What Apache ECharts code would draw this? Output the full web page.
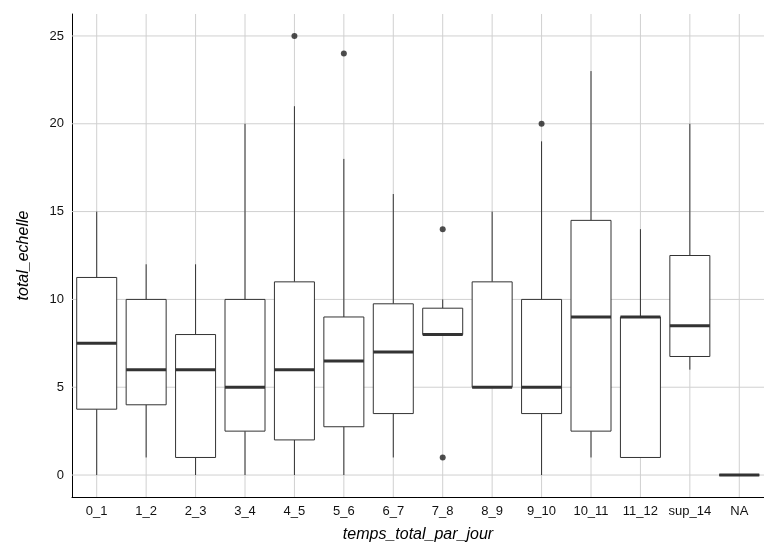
<!DOCTYPE html>
<html><head><meta charset="utf-8">
<script src="https://cdn.jsdelivr.net/npm/echarts@6/dist/echarts.min.js"></script>
<style>html,body{margin:0;background:#fff}#c{width:764px;height:549px}</style>
</head><body><div id="c"></div>
<script>
const categories = ['0_1','1_2','2_3','3_4','4_5','5_6','6_7','7_8','8_9','9_10','10_11','11_12','sup_14','NA'];
// [lower whisker, Q1, median, Q3, upper whisker]
const boxes = [
  [0,3.75,7.5,11.25,15],
  [1,4,6,10,12],
  [0,1,6,8,12],
  [0,2.5,5,10,20],
  [0,2,6,11,21],
  [0,2.75,6.5,9,18],
  [1,3.5,7,9.75,16],
  [8,8,8,9.5,10],
  [5,5,5,11,15],
  [0,3.5,5,10,19],
  [1,2.5,9,14.5,23],
  [1,1,9,9,14],
  [6,6.75,8.5,12.5,20],
  [0,0,0,0,0]
];
const outliers = [['4_5',25],['5_6',24],['7_8',14],['7_8',1],['9_10',20]];
const yTicks = [0,5,10,15,20,25];
const yMin = -1.25, yMax = 26.25;

const boxData = categories.map((c,i)=>[i].concat(boxes[i]));
const chart = echarts.init(document.getElementById('c'));
chart.setOption({
  animation:false,
  grid:{left:72,right:0,top:14,bottom:52},
  xAxis:{type:'category',data:categories,boundaryGap:true,
    axisLine:{onZero:false,lineStyle:{color:'#000',width:1}},axisTick:{show:false},
    axisLabel:{interval:0,color:'#111',fontSize:13,fontFamily:'Liberation Sans'},
    splitLine:{show:false},
    name:'temps_total_par_jour',nameLocation:'middle',nameGap:30,
    nameTextStyle:{fontStyle:'italic',fontSize:16,color:'#000',fontFamily:'Liberation Sans'}},
  yAxis:{type:'value',min:yMin,max:yMax,interval:1.25,
    axisLine:{show:true,lineStyle:{color:'#000'}},axisTick:{show:false},
    axisLabel:{color:'#111',fontSize:13,fontFamily:'Liberation Sans',
      formatter:v=>yTicks.includes(Math.round(v*100)/100)?String(Math.round(v)):''},
    splitLine:{show:false},
    name:'total_echelle',nameLocation:'middle',nameGap:40,
    nameTextStyle:{fontStyle:'italic',fontSize:16,color:'#000',fontFamily:'Liberation Sans'}},
  series:[
    {type:'custom',z:1,silent:true,data:yTicks.map(v=>[0,v]),
      renderItem:(p,api)=>{
        const y=api.coord([0,api.value(1)])[1], cs=p.coordSys;
        return {type:'line',shape:{x1:cs.x,y1:y,x2:cs.x+cs.width,y2:y},style:{stroke:'#d0d0d0',lineWidth:1}};
      }},
    {type:'custom',z:1,silent:true,data:categories.map((c,i)=>[i]),
      renderItem:(p,api)=>{
        const top=api.coord([api.value(0),yMax]), bot=api.coord([api.value(0),yMin]);
        return {type:'line',shape:{x1:top[0],y1:top[1],x2:bot[0],y2:bot[1]},style:{stroke:'#d0d0d0',lineWidth:1}};
      }},
    {type:'custom',z:3,data:boxData,encode:{x:0,y:[1,2,3,4,5]},
      renderItem:(p,api)=>{
        const x=api.value(0), w=40;
        const pt=k=>api.coord([x,api.value(k)]);
        const lo=pt(1),q1=pt(2),md=pt(3),q3=pt(4),hi=pt(5);
        const cx=lo[0];
        const s={stroke:'#333',lineWidth:1,fill:null};
        return {type:'group',children:[
          {type:'line',shape:{x1:cx,y1:hi[1],x2:cx,y2:q3[1]},style:s},
          {type:'line',shape:{x1:cx,y1:q1[1],x2:cx,y2:lo[1]},style:s},
          {type:'rect',shape:{x:cx-w/2,y:q3[1],width:w,height:q1[1]-q3[1]},style:{stroke:'#333',lineWidth:1,fill:'#fff'}},
          {type:'line',shape:{x1:cx-w/2,y1:md[1],x2:cx+w/2,y2:md[1]},style:{stroke:'#333',lineWidth:3}}
        ]};
      }},
    {type:'scatter',z:4,data:outliers,symbolSize:6,itemStyle:{color:'#222'}}
  ]
});
</script></body></html>
